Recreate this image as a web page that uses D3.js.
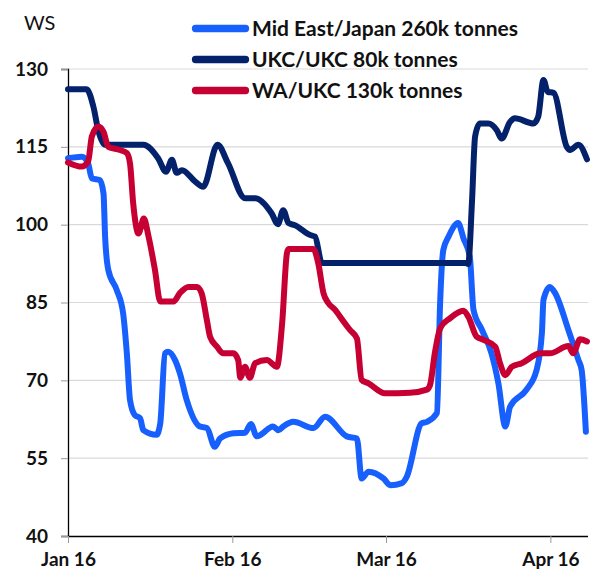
<!DOCTYPE html>
<html><head><meta charset="utf-8">
<script src="https://cdn.jsdelivr.net/npm/d3@7"></script>
<style>
html,body{margin:0;padding:0;background:#fff;}
svg{display:block;font-family:Lato,"Open Sans",sans-serif;}
</style></head>
<body><svg id="chart" width="594" height="572"></svg>
<script>
// Days since 1 Jan 2016 and Worldscale (WS) values
const seriesNames = ["Mid East/Japan 260k tonnes", "UKC/UKC 80k tonnes", "WA/UKC 130k tonnes"];
const seriesColors = ["#1760fd", "#03226b", "#c70033"];

const midEastDays = [0,2.6,3.8,4.5,6.0,6.7,7.0,7.6,9.2,10.4,11.1,11.7,12.6,13.6,14.2,16.7,17.4,18.3,18.9,20.2,21.1,22.4,24.9,26.2,27.7,28.7,31.2,33.4,34.5,35.6,38.7,39.7,40.6,42.5,46.3,48.5,52.6,54.5,55.4,56.7,59.5,60.8,63.0,63.9,66.7,67.7,69.6,70.2,70.8,71.8,73.6,74.6,75.8,76.5,78.1,79.9,81.2,82.5,83.4,86.5,88.4,89.4,89.7,90.9,91.9,94.4,96.3,96.9,97.7];
const midEastWS = [112.8,113.1,111.8,108.9,108.6,106,97.7,91.3,87.4,82.9,75.2,66.2,63.3,62.7,60.4,59.5,61.7,75.2,75.5,73.9,71.4,66.2,61.1,60.8,57.2,58.8,59.8,59.9,61.6,59.2,61.1,60.4,61.1,62,60.8,63,59.2,58.8,51.1,52.4,51.1,49.8,50.2,51.4,61.7,62,63.7,84.9,95.1,97.7,100.3,97.4,93.8,83.6,79.7,75.2,69.4,61.1,64.9,68.2,72,79.1,85.5,88,86.8,79.7,73.9,72,60.1];

const ukcDays = [0,3.5,4.8,5.7,7.0,14.2,17.0,18.5,19.6,20.5,21.5,24.0,25.5,28.2,30.2,33.4,35.3,38.4,39.6,40.6,41.6,42.8,45.7,46.6,47.9,75.2,75.5,76.2,76.8,77.7,79.3,80.9,81.8,83.4,84.3,87.8,88.7,89.7,90.5,91.6,94.1,94.7,96.3,97.9];
const ukcWS = [126.1,126.1,122.7,118.2,115.4,115.4,112.8,110.2,112.5,110,110.5,108.3,107.3,115.4,111.8,105.1,105.1,102.2,100.1,102.8,100.3,99.9,98,97.7,92.6,92.6,92.4,104.1,117,119.5,119.5,118.2,116.6,119.8,120.5,119.5,120.8,127.9,125.6,125.4,115,114.4,115.4,112.6];

const waDays = [0,2.6,3.8,4.5,5.7,6.7,7.6,9.8,11.1,11.7,12.3,13.3,14.3,15.2,16.4,17.4,19.9,21.1,22.7,24.3,25.2,26.2,26.8,28.1,29.3,31.2,32.1,32.5,33.4,34.3,35.3,37.5,39.4,40.4,41.3,41.6,46.3,47.2,48.2,49.1,50.4,51.3,53.2,54.5,55.4,56.7,59.8,64.5,67.7,68.3,69.2,70.2,72.1,74.6,75.5,77.1,78.4,80.6,81.5,82.5,83.7,85.6,89.1,90.9,94.4,95.3,96.6,97.9];
const waWS = [112,111.2,112.2,117,118.9,117.9,115,114.4,113.8,111.8,104.1,98.3,101.2,97.7,91.3,85.2,85.2,86.8,88,88,86.8,81.6,78.4,76.5,75.2,75.2,73.9,70.5,72.6,70.5,73.3,73.9,72.6,81,94.5,95.3,95.3,92.6,86.8,84.9,83.6,82.3,79.7,78.1,70.1,69.4,67.5,67.6,68.2,69.1,75.2,80,82,83.4,82.3,78.4,77.8,76.5,73.3,71,72.6,73.3,75.2,75.2,76.6,75.2,77.9,77.5];

const yTicks = [40,55,70,85,100,115,130];
const xTickDates = ["2016-01-01","2016-02-01","2016-03-01","2016-04-01"];
const xTickLabels = ["Jan 16","Feb 16","Mar 16","Apr 16"];
const yAxisTitle = "WS";

const base = Date.UTC(2016,0,1);
const toDate = d => new Date(base + d*864e5);

const svg = d3.select("#chart");
const x = d3.scaleUtc().domain([toDate(0), toDate(98.1)]).range([68, 588]);
const y = d3.scaleLinear().domain([40,130]).range([536, 69]);

// gridlines
svg.append("g").selectAll("line").data(yTicks.filter(v=>v>40)).join("line")
  .attr("x1",68).attr("x2",588).attr("y1",d=>y(d)).attr("y2",d=>y(d))
  .attr("stroke","#d9d9d9").attr("stroke-width",1.2);

// y axis
const yAxis = svg.append("g").attr("transform","translate(68,0)")
  .call(d3.axisLeft(y).tickValues(yTicks).tickSize(7).tickPadding(13).tickFormat(d3.format("d")));
yAxis.select(".domain").attr("stroke","#000").attr("stroke-width",1.3);
yAxis.selectAll(".tick line").attr("stroke","#999");
yAxis.selectAll("text").attr("font-size",19).attr("font-weight",700).attr("fill","#111")
  .attr("font-family","Lato, sans-serif");

// x axis
const xAxis = svg.append("g").attr("transform","translate(0,536)")
  .call(d3.axisBottom(x).tickValues(xTickDates.map(s=>new Date(s+"T00:00:00Z")))
    .tickSize(7).tickPadding(10).tickFormat((d,i)=>xTickLabels[i]));
xAxis.select(".domain").attr("stroke","#000").attr("stroke-width",1.3)
  .attr("d","M68,0.5H588");
xAxis.selectAll(".tick line").attr("stroke","#999");
xAxis.selectAll("text").attr("font-size",19).attr("font-weight",700).attr("fill","#111")
  .attr("font-family","Lato, sans-serif");

// axis title
svg.append("text").attr("x",24).attr("y",30).attr("font-size",20).attr("fill","#111")
  .attr("font-family","Lato, sans-serif").text(yAxisTitle);

// lines
const series = [
  {days: midEastDays, vals: midEastWS, i:0},
  {days: ukcDays, vals: ukcWS, i:1},
  {days: waDays, vals: waWS, i:2}
];
const line = d3.line().x(d=>x(toDate(d[0]))).y(d=>y(d[1])).curve(d3.curveMonotoneX);
svg.append("g").selectAll("path").data(series).join("path")
  .attr("d", s => line(s.days.map((d,k)=>[d, s.vals[k]])))
  .attr("fill","none").attr("stroke", s=>seriesColors[s.i])
  .attr("stroke-width",6).attr("stroke-linejoin","round").attr("stroke-linecap","round");

// legend
const lg = svg.append("g").selectAll("g").data(seriesNames).join("g")
  .attr("transform",(d,i)=>`translate(0,${28.5 + i*31})`);
lg.append("line").attr("x1",195.5).attr("x2",245.5).attr("y1",0).attr("y2",0)
  .attr("stroke",(d,i)=>seriesColors[i]).attr("stroke-width",7.3).attr("stroke-linecap","round");
lg.append("text").attr("x",252).attr("y",7.5).attr("font-size",21).attr("font-weight",700)
  .attr("fill","#111").attr("font-family","Lato, sans-serif").text(d=>d);
</script></body></html>
